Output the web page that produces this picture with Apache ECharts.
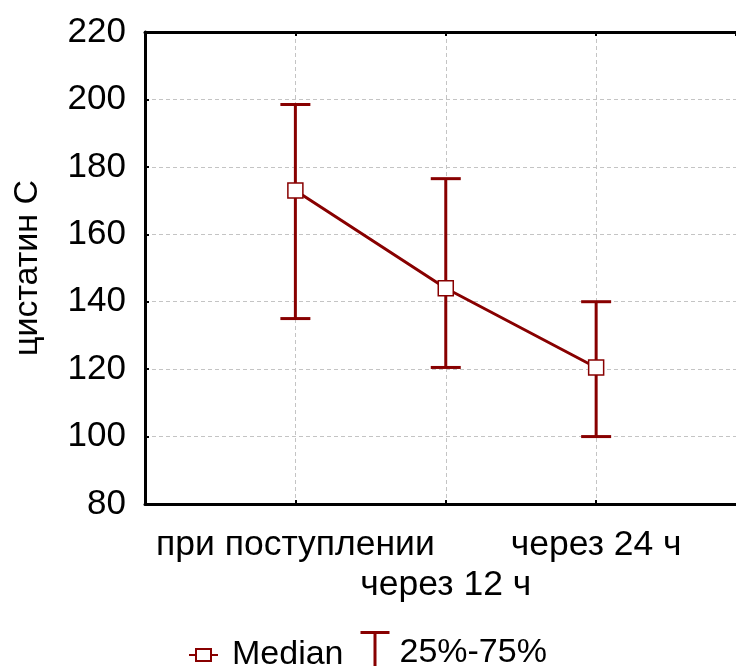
<!DOCTYPE html>
<html>
<head>
<meta charset="utf-8">
<script src="https://cdn.jsdelivr.net/npm/echarts@6/dist/echarts.min.js"></script>
<style>html,body{margin:0;padding:0;background:#fff}#c{width:736px;height:666px}</style>
</head>
<body>
<div id="c"></div>
<script>
const categories = ['при поступлении', 'через 12 ч', 'через 24 ч'];
const medians = [173, 144, 120.5];
const q25 = [135, 120.5, 100];
const q75 = [198.5, 176.5, 140];
const yMin = 80, yMax = 220, yStep = 20;
const yTitle = 'цистатин С';
const legendNames = ['Median', '25%-75%'];

const RED = '#880000';
const FONT = 'Liberation Sans, Arial, sans-serif';
const X_MAX = 3.93;

const lineData = categories.map((c, i) => [i + 1, medians[i]]);
const errData = categories.map((c, i) => [i + 1, q25[i], q75[i]]);

const chart = echarts.init(document.getElementById('c'), null, {renderer: 'canvas'});
chart.setOption({
  animation: false,
  backgroundColor: '#fff',
  grid: {left: 145, right: 0, top: 32, bottom: 162},
  xAxis: [{
    type: 'value', min: 0, max: X_MAX, interval: 1, position: 'bottom',
    axisLine: {show: true, onZero: false, lineStyle: {color: '#000', width: 3}},
    axisTick: {show: true, inside: true, length: 4, lineStyle: {color: '#000', width: 2}},
    splitLine: {show: true, showMaxLine: false, showMinLine: false, lineStyle: {color: '#c4c4c4', type: [4, 3], width: 1}},
    axisLabel: {
      show: true, margin: 21, color: '#000', fontFamily: FONT, fontSize: 35.5, lineHeight: 40,
      showMaxLabel: false,
      formatter: function (v) {
        const i = Math.round(v) - 1;
        if (Math.abs(v - Math.round(v)) > 1e-6) return '';
        if (i < 0 || i >= categories.length) return '';
        return (i % 2 === 1 ? '\n' : '') + categories[i];
      }
    }
  }, {
    type: 'value', min: 0, max: X_MAX, interval: 1, position: 'top',
    axisLine: {show: true, onZero: false, lineStyle: {color: '#000', width: 3}},
    axisTick: {show: true, inside: true, length: 4, lineStyle: {color: '#000', width: 2}},
    splitLine: {show: false},
    axisLabel: {show: false}
  }],
  yAxis: {
    type: 'value', min: yMin, max: yMax, interval: yStep,
    name: yTitle, nameLocation: 'middle', nameGap: 100,
    nameTextStyle: {color: '#000', fontFamily: FONT, fontSize: 34},
    axisLine: {show: true, onZero: false, lineStyle: {color: '#000', width: 3}},
    axisTick: {show: true, inside: true, length: 4, lineStyle: {color: '#000', width: 2}},
    splitLine: {show: true, lineStyle: {color: '#c4c4c4', type: [4, 3], width: 1}},
    axisLabel: {margin: 19, color: '#000', fontFamily: FONT, fontSize: 35}
  },
  legend: [{
    left: 188, top: 638, padding: 0, itemWidth: 29, itemHeight: 12, itemGap: 0,
    data: [{
      name: legendNames[0],
      icon: 'path://M0,6 L7,6 M7,0 L22,0 L22,12 L7,12 Z M22,6 L29,6',
      itemStyle: {color: '#fff', borderColor: RED, borderWidth: 2}
    }],
    textStyle: {color: '#000', fontFamily: FONT, fontSize: 34, padding: [0, 0, 0, 9]}
  }, {
    left: 359, top: 631, padding: 0, itemWidth: 29, itemHeight: 40, itemGap: 0,
    data: [{
      name: legendNames[1],
      icon: 'path://M0,0 L29,0 M14.5,0 L14.5,40',
      itemStyle: {color: 'rgba(0,0,0,0)', borderColor: RED, borderWidth: 3}
    }],
    textStyle: {color: '#000', fontFamily: FONT, fontSize: 34, padding: [0, 0, 0, 5]}
  }],
  series: [{
    name: legendNames[1],
    type: 'custom',
    xAxisIndex: 0,
    z: 2,
    data: errData,
    renderItem: function (params, api) {
      const x = api.value(0);
      const lo = api.coord([x, api.value(1)]);
      const hi = api.coord([x, api.value(2)]);
      const hw = 15;
      const st = {stroke: RED, lineWidth: 3, fill: null};
      return {
        type: 'group',
        children: [
          {type: 'line', shape: {x1: lo[0], y1: lo[1], x2: hi[0], y2: hi[1]}, style: st},
          {type: 'line', shape: {x1: hi[0] - hw, y1: hi[1], x2: hi[0] + hw, y2: hi[1]}, style: st},
          {type: 'line', shape: {x1: lo[0] - hw, y1: lo[1], x2: lo[0] + hw, y2: lo[1]}, style: st}
        ]
      };
    },
    itemStyle: {color: RED}
  }, {
    name: legendNames[0],
    type: 'line',
    xAxisIndex: 0,
    z: 3,
    data: lineData,
    symbol: 'rect',
    symbolSize: 15,
    lineStyle: {color: RED, width: 3},
    itemStyle: {color: '#fff', borderColor: RED, borderWidth: 1.5}
  }]
});
</script>
</body>
</html>
